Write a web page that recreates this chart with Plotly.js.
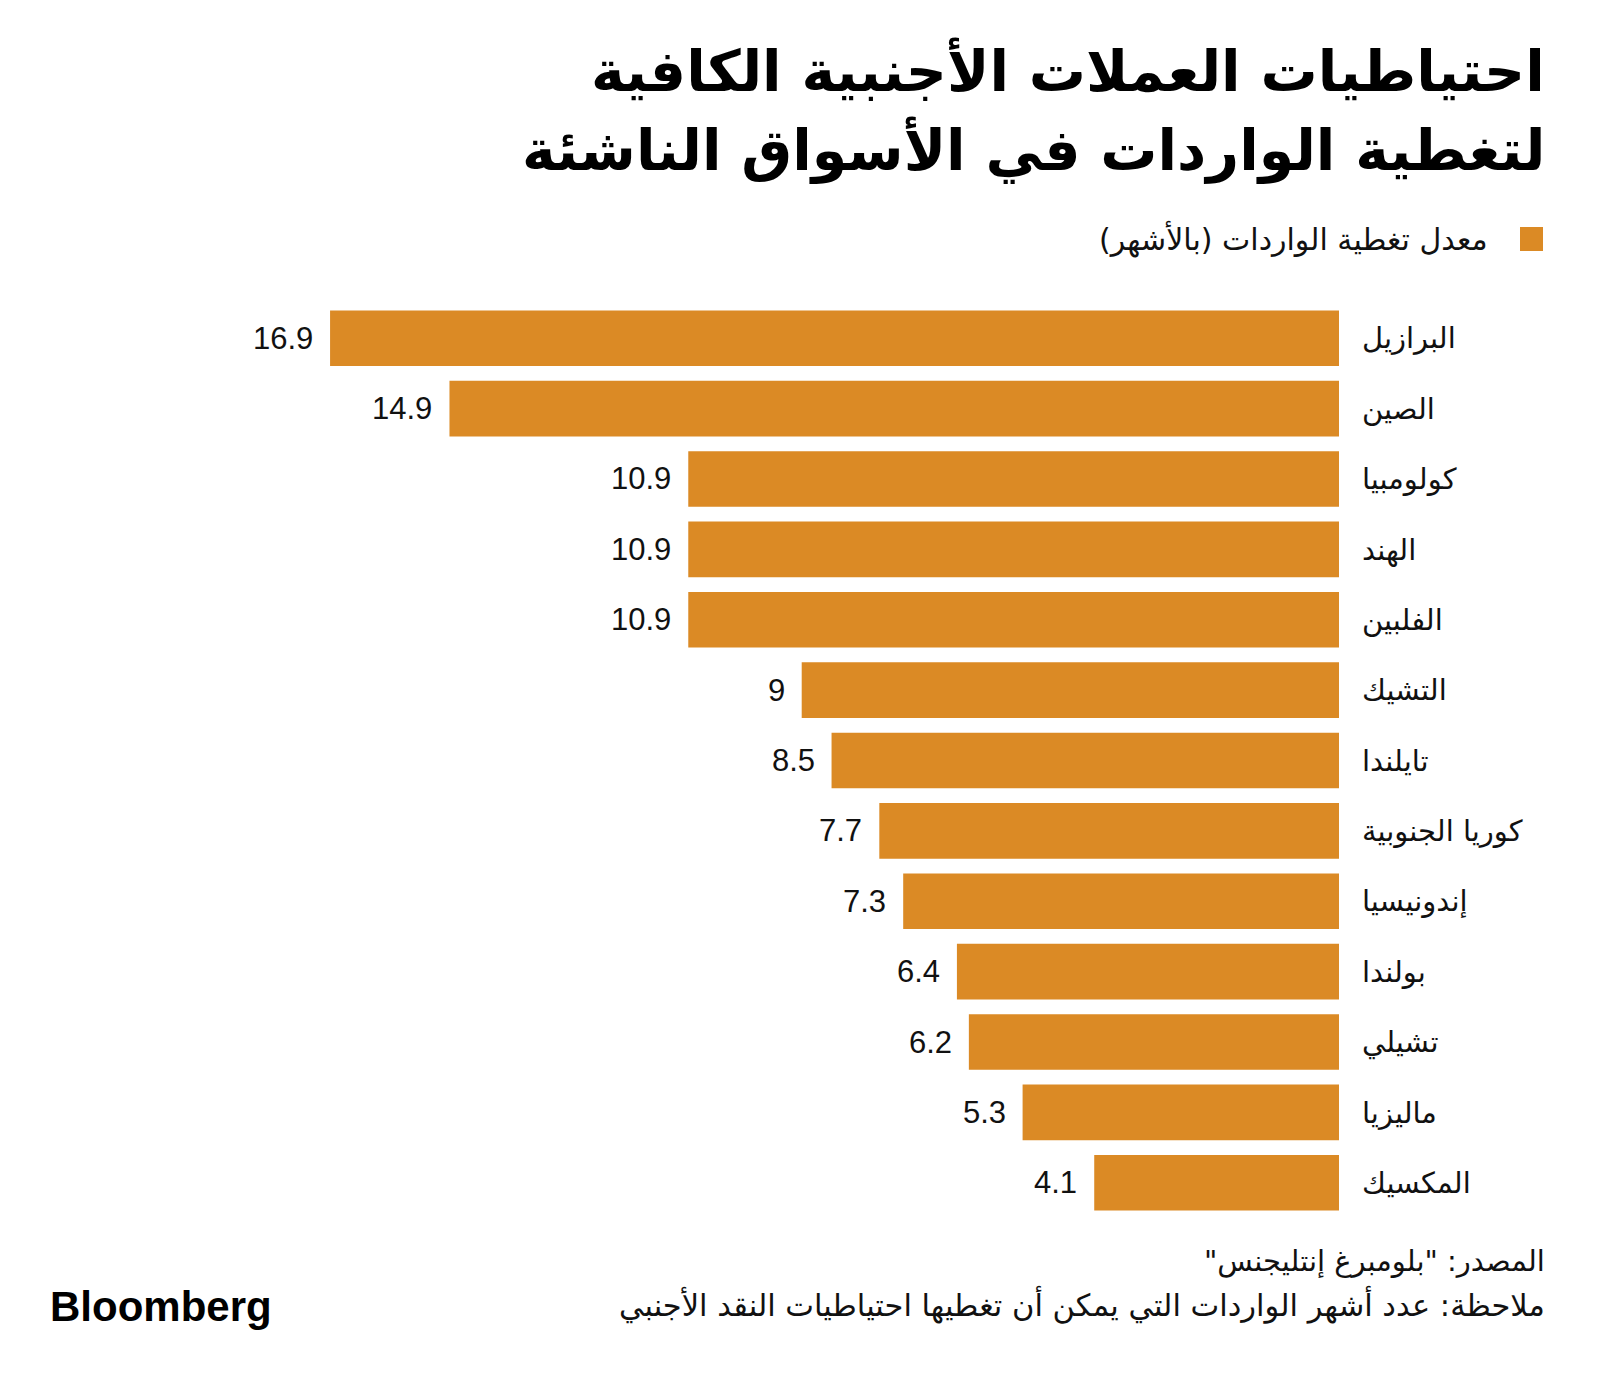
<!DOCTYPE html>
<html>
<head>
<meta charset="utf-8">
<script src="https://cdn.plot.ly/plotly-3.0.1.min.js"></script>
<style>html,body{margin:0;padding:0;background:#fff}#chart{width:1600px;height:1385px}</style>
</head>
<body>
<div id="chart"></div>
<script>
// ---- data ----
const countries = ["البرازيل","الصين","كولومبيا","الهند","الفلبين","التشيك","تايلندا","كوريا الجنوبية","إندونيسيا","بولندا","تشيلي","ماليزيا","المكسيك"];
const months = [16.9,14.9,10.9,10.9,10.9,9,8.5,7.7,7.3,6.4,6.2,5.3,4.1];
const seriesName = "معدل تغطية الواردات (بالأشهر)";
const titleLines = ["احتياطيات العملات الأجنبية الكافية","لتغطية الواردات في الأسواق الناشئة"];
const sourceText = "المصدر: \"بلومبرغ إنتليجنس\"";
const noteText = "ملاحظة: عدد أشهر الواردات التي يمكن أن تغطيها احتياطيات النقد الأجنبي";

// ---- style ----
const W = 1600, H = 1385;
const M = {l: 200, r: 261, t: 303, b: 167};
const barColor = "#DB8A25";
const arabicFont = "DejaVu Sans, Noto Sans, sans-serif";
const numFont = "Liberation Sans, Arial, sans-serif";
const RLM = "\u200F";
const rtl = s => RLM + s + RLM;

const pw = W - M.l - M.r, ph = H - M.t - M.b;
const px = x => (x - M.l) / pw;
const py = y => (H - M.b - y) / ph;

const trace = {
  type: "bar",
  orientation: "h",
  x: months,
  y: countries,
  name: seriesName,
  marker: {color: barColor},
  hoverinfo: "x+y"
};

const valueAnns = months.map((v, i) => ({
  x: v, y: countries[i], xref: "x", yref: "y",
  text: String(v), showarrow: false,
  xanchor: "right", yanchor: "middle", xshift: -15,
  font: {family: numFont, size: 31, color: "#111"}
}));

const otherAnns = [
  {xref: "paper", yref: "paper", x: px(1547), y: py(71), xanchor: "right", yanchor: "middle",
   text: "<b>" + rtl(titleLines[0]) + "</b>", showarrow: false,
   font: {family: arabicFont, size: 57, color: "#000"}},
  {xref: "paper", yref: "paper", x: px(1547), y: py(150), xanchor: "right", yanchor: "middle",
   text: "<b>" + rtl(titleLines[1]) + "</b>", showarrow: false,
   font: {family: arabicFont, size: 57, color: "#000"}},
  {xref: "paper", yref: "paper", x: px(1490), y: py(239), xanchor: "right", yanchor: "middle",
   text: rtl(seriesName), showarrow: false, font: {family: arabicFont, size: 30, color: "#111"}},
  {xref: "paper", yref: "paper", x: px(1547), y: py(1261), xanchor: "right", yanchor: "middle",
   text: rtl(sourceText), showarrow: false, font: {family: arabicFont, size: 29, color: "#111"}},
  {xref: "paper", yref: "paper", x: px(1547), y: py(1304), xanchor: "right", yanchor: "middle",
   text: rtl(noteText), showarrow: false, font: {family: arabicFont, size: 30.5, color: "#111"}},
  {xref: "paper", yref: "paper", x: px(48), y: py(1306), xanchor: "left", yanchor: "middle",
   text: "<b>Bloomberg</b>", showarrow: false, font: {family: numFont, size: 42, color: "#000"}}
];

const layout = {
  width: W, height: H,
  paper_bgcolor: "#fff", plot_bgcolor: "#fff",
  margin: M,
  showlegend: false,
  bargap: 0.21,
  xaxis: {
    range: [(1339 - M.l) / 59.7, 0],
    showgrid: false, zeroline: false, showline: false,
    showticklabels: false, ticks: "", fixedrange: true
  },
  yaxis: {
    type: "category",
    categoryorder: "array", categoryarray: countries,
    autorange: "reversed",
    side: "right",
    showgrid: false, zeroline: false, showline: false,
    ticks: "", ticklabelstandoff: 22,
    tickfont: {family: arabicFont, size: 29, color: "#111"},
    automargin: false, fixedrange: true
  },
  shapes: [
    {type: "rect", xref: "paper", yref: "paper",
     x0: px(1520), x1: px(1543), y0: py(227), y1: py(251),
     fillcolor: barColor, line: {width: 0}}
  ],
  annotations: valueAnns.concat(otherAnns)
};

Plotly.newPlot("chart", [trace], layout, {displayModeBar: false, staticPlot: true});
</script>
</body>
</html>
